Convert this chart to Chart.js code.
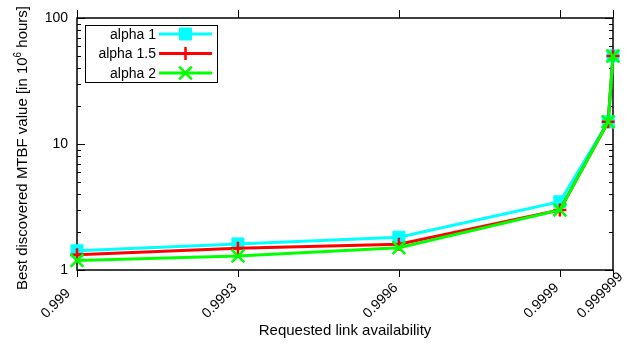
<!DOCTYPE html>
<html>
<head>
<meta charset="utf-8">
<script src="https://cdn.jsdelivr.net/npm/chart.js@4.4.1/dist/chart.umd.min.js"></script>
<style>
  html, body { margin: 0; padding: 0; background: #ffffff; }
  #wrap { width: 630px; height: 346px; }
</style>
</head>
<body>
<div id="wrap"><canvas id="c" width="630" height="346"></canvas></div>
<script>
// Requested link availability (x) and best MTBF found, in 10^6 hours (y)
const availability = [0.999, 0.9993, 0.9996, 0.9999, 0.99999, 0.999999];
const alpha1  = [1.42, 1.61, 1.82, 3.48, 15, 50];
const alpha15 = [1.32, 1.49, 1.60, 3.00, 15, 50];
const alpha2  = [1.19, 1.29, 1.50, 3.00, 15, 50];
const seriesNames = ['alpha 1', 'alpha 1.5', 'alpha 2'];
const xTickValues = [0.999, 0.9993, 0.9996, 0.9999, 0.999999];
const xTickLabels = ['0.999', '0.9993', '0.9996', '0.9999', '0.999999'];
const yTickValues = [1, 10, 100];
const xTitle = 'Requested link availability';

const FONT = '"Liberation Sans", Arial, sans-serif';
Chart.defaults.font.family = FONT;
Chart.defaults.color = '#000';

function pts(ys) { return availability.map((x, i) => ({ x: x, y: ys[i] })); }

// Axis frame plus tick marks (y inward, x outward) and slanted x labels
const framePlugin = {
  id: 'frame',
  beforeDatasetsDraw(chart) {
    const { ctx, chartArea: a, scales } = chart;
    ctx.save();
    ctx.strokeStyle = '#000';
    ctx.lineWidth = 1;
    // y ticks: majors at decades, minors at 2..9
    const ys = scales.y;
    for (let d = 1; d <= 100; d *= 10) {
      for (let m = 1; m <= 9; m++) {
        const v = d * m;
        if (v > 100) break;
        const p = Math.round(ys.getPixelForValue(v)) + 0.5;
        const len = m === 1 ? 8 : 4;
        ctx.beginPath();
        ctx.moveTo(a.left, p); ctx.lineTo(a.left + len, p);
        ctx.moveTo(a.right, p); ctx.lineTo(a.right - len, p);
        ctx.stroke();
      }
    }
    // x ticks, outward on bottom and top, with labels starting below-left
    const xs = scales.x;
    ctx.fillStyle = '#000';
    ctx.font = '14px ' + FONT;
    xTickValues.forEach((v, i) => {
      const px = xs.getPixelForValue(v);
      const p = Math.round(px) + 0.5;
      ctx.beginPath();
      ctx.moveTo(p, a.bottom); ctx.lineTo(p, a.bottom + 7);
      ctx.moveTo(p, a.top); ctx.lineTo(p, a.top - 8);
      ctx.stroke();
      ctx.save();
      ctx.translate(px - 33.5, a.bottom + 46);
      ctx.rotate(-Math.PI / 4);
      ctx.textAlign = 'left';
      ctx.textBaseline = 'middle';
      ctx.fillText(xTickLabels[i], 0, 0);
      ctx.restore();
    });
    ctx.lineWidth = 1.5;
    ctx.strokeRect(a.left, a.top, a.right - a.left, a.bottom - a.top);
    ctx.restore();
  }
};

// Axis titles and the boxed key
const annotatePlugin = {
  id: 'annotate',
  afterDraw(chart) {
    const { ctx, chartArea: a } = chart;
    ctx.save();
    ctx.fillStyle = '#000';

    // x title
    ctx.font = '15px ' + FONT;
    ctx.textAlign = 'center';
    ctx.textBaseline = 'middle';
    ctx.fillText(xTitle, (a.left + a.right) / 2, 331);

    // y title with superscript exponent
    const partA = 'Best discovered MTBF value [in 10';
    const sup = '6';
    const partB = ' hours]';
    ctx.font = '15px ' + FONT;
    const wA = ctx.measureText(partA).width;
    const wB = ctx.measureText(partB).width;
    ctx.font = '10px ' + FONT;
    const wS = ctx.measureText(sup).width;
    const total = wA + wS + wB;
    ctx.translate(22, (a.top + a.bottom) / 2 + 4);
    ctx.rotate(-Math.PI / 2);
    ctx.textAlign = 'left';
    ctx.textBaseline = 'alphabetic';
    const x0 = -total / 2;
    ctx.font = '15px ' + FONT;
    ctx.fillText(partA, x0, 5);
    ctx.font = '10px ' + FONT;
    ctx.fillText(sup, x0 + wA, -1);
    ctx.font = '15px ' + FONT;
    ctx.fillText(partB, x0 + wA + wS, 5);
    ctx.setTransform(1, 0, 0, 1, 0, 0);

    // key box
    const bx = 85, by = 25, bw = 132, bh = 57;
    ctx.fillStyle = '#fff';
    ctx.fillRect(bx, by, bw, bh);
    ctx.strokeStyle = '#000';
    ctx.lineWidth = 1;
    ctx.strokeRect(bx + 0.5, by + 0.5, bw, bh);
    [0, 1, 2].forEach((i, row) => {
      const ds = chart.data.datasets[i];
      const cy = 34 + row * 19.5;
      ctx.fillStyle = '#000';
      ctx.font = '14px ' + FONT;
      ctx.textAlign = 'right';
      ctx.textBaseline = 'middle';
      ctx.fillText(seriesNames[i], 156, cy + 1);
      ctx.strokeStyle = ds.borderColor;
      ctx.lineWidth = ds.borderWidth;
      ctx.beginPath();
      ctx.moveTo(159, cy); ctx.lineTo(212, cy);
      ctx.stroke();
      ctx.fillStyle = ds.pointBackgroundColor;
      ctx.strokeStyle = ds.pointBorderColor;
      ctx.lineWidth = ds.pointBorderWidth;
      Chart.helpers.drawPoint(ctx, {
        pointStyle: ds.pointStyle, radius: ds.pointRadius, rotation: 0,
        borderWidth: ds.pointBorderWidth
      }, 185.5, cy);
    });
    ctx.restore();
  }
};

const cfg = {
  type: 'line',
  data: {
    datasets: [
      {
        label: seriesNames[0], data: pts(alpha1),
        borderColor: '#00ffff', backgroundColor: '#00ffff', borderWidth: 3,
        pointStyle: 'rect', pointRadius: 8.5, pointBackgroundColor: '#00ffff',
        pointBorderColor: '#00ffff', pointBorderWidth: 1,
        tension: 0, clip: false, order: 2
      },
      {
        label: seriesNames[1], data: pts(alpha15),
        borderColor: '#ff0000', backgroundColor: '#ff0000', borderWidth: 3,
        pointStyle: 'cross', pointRadius: 6.5, pointBackgroundColor: '#ff0000',
        pointBorderColor: '#ff0000', pointBorderWidth: 2.5,
        tension: 0, clip: false, order: 1
      },
      {
        label: seriesNames[2], data: pts(alpha2),
        borderColor: '#00ff00', backgroundColor: '#00ff00', borderWidth: 3,
        pointStyle: 'crossRot', pointRadius: 9, pointBackgroundColor: '#00ff00',
        pointBorderColor: '#00ff00', pointBorderWidth: 2.5,
        tension: 0, clip: false, order: 0
      }
    ]
  },
  options: {
    responsive: false,
    animation: false,
    devicePixelRatio: 1,
    layout: { padding: { left: 0, right: 17, top: 18, bottom: 0 } },
    plugins: { legend: { display: false }, tooltip: { enabled: false } },
    scales: {
      x: {
        type: 'linear', min: 0.999, max: 0.999999,
        afterBuildTicks: s => { s.ticks = xTickValues.map(v => ({ value: v })); },
        afterFit: s => { s.height = 76; s.paddingLeft = 0; s.paddingRight = 0; },
        grid: { display: false, drawTicks: false },
        border: { display: false },
        ticks: { display: false }
      },
      y: {
        type: 'logarithmic', min: 1, max: 100,
        afterBuildTicks: s => { s.ticks = yTickValues.map(v => ({ value: v })); },
        afterFit: s => { s.width = 77; },
        grid: { display: false, drawTicks: false },
        border: { display: false },
        ticks: {
          padding: 9, font: { size: 14 }, color: '#000',
          callback: v => String(v)
        }
      }
    }
  },
  plugins: [framePlugin, annotatePlugin]
};

new Chart(document.getElementById('c'), cfg);
</script>
</body>
</html>
